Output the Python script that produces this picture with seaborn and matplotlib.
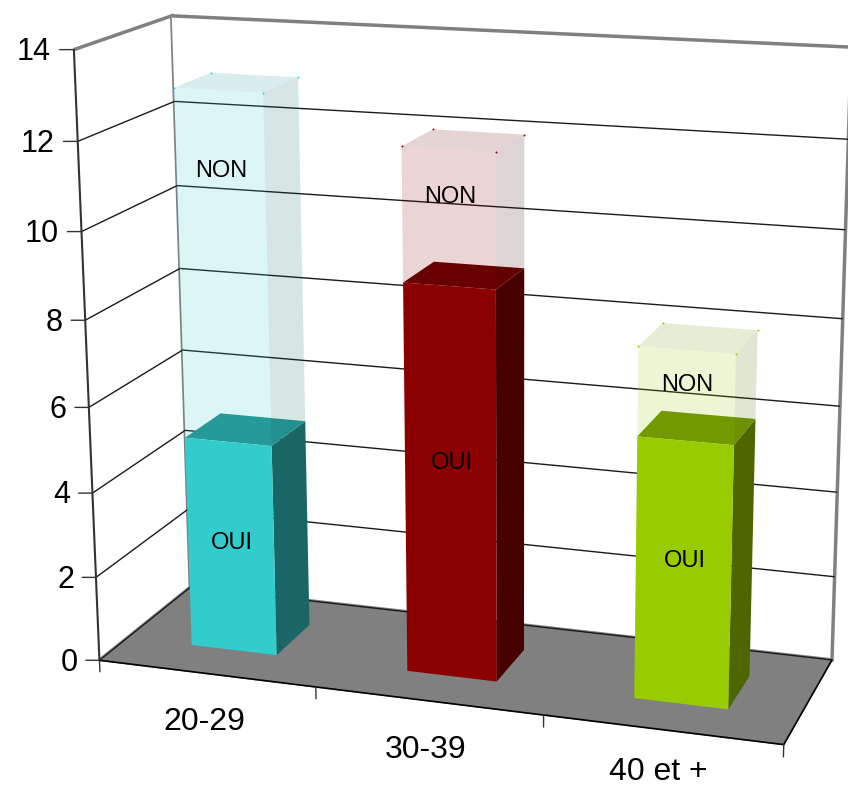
import matplotlib
matplotlib.use('Agg')
import matplotlib.pyplot as plt
import numpy as np
import seaborn as sns
from mpl_toolkits.mplot3d import proj3d

categories = ['20-29', '30-39', '40 et +']
oui_values = [5, 9, 6]
non_values = [8, 3, 2]
z_ticks = [0, 2, 4, 6, 8, 10, 12, 14]
base_colors = ['#33cccc', '#8b0000', '#99cc00']

# Excel put the data labels a bit off the middle of each segment
oui_label_lift = [0.1, 0.5, 0.3]
non_label_lift = [2.2, 0.47, 0.23]
category_label_drop = [1.18, 1.18, 0.98]

BAR_START = 0.305
BAR_SIZE = 0.4
DEPTH_START = 0.3
NON_ALPHA = 0.17
HIDDEN = (0, 0, 0, 0)

sns.set_theme(style='white')
plt.rcParams['font.family'] = ['Liberation Sans', 'DejaVu Sans']
palette = sns.color_palette(base_colors)

fig = plt.figure(figsize=(8.48, 7.88), dpi=100)
ax = fig.add_axes([0.0341, 0.0254, 1, 1], projection='3d')
ax.set_xlim(0, 3)
ax.set_ylim(0, 1)
ax.set_zlim(0, z_ticks[-1])
ax.view_init(elev=15.43, azim=-71.41, roll=0.30)
ax.set_proj_type('persp', focal_length=0.667)
ax.set_box_aspect((1, 0.322, 0.883), zoom=1.214)
ax.computed_zorder = False


def label_at(x, y, z, text, **kwargs):
    # project by hand so the text keeps its real place on the 2d axes
    px, py, _ = proj3d.proj_transform(x, y, z, ax.get_proj())
    ax.text2D(px, py, text, transform=ax.transData, ha=kwargs.pop('ha', 'center'), va='center',
              color='black', zorder=20, **kwargs)


# walls and floor
ax.set_xticks([])
ax.set_yticks([])
ax.set_zticks(z_ticks[:-1])
ax.set_zticklabels([])
ax.grid(True)
ax.zaxis._axinfo['grid'].update(color='#1a1a1a', linewidth=1)
ax.zaxis._axinfo['tick'].update(inward_factor=0, outward_factor=0)
for axis in (ax.xaxis, ax.yaxis):
    axis.set_pane_color((1, 1, 1, 1))
    axis.pane.set_edgecolor('#808080')
    axis.pane.set_linewidth(2.5)
    axis.line.set_color(HIDDEN)
ax.zaxis.set_pane_color('#808080')
ax.zaxis.pane.set_edgecolor('#808080')
ax.zaxis.line.set_color(HIDDEN)

# outline of the chart box
ax.plot([0, 3], [0, 0], [0, 0], color='black', lw=1.2, zorder=2, clip_on=False)
ax.plot([3, 3], [0, 1], [0, 0], color='black', lw=1.2, zorder=2, clip_on=False)
ax.plot([0, 0], [0, 0], [0, z_ticks[-1]], color='#333333', lw=1.5, zorder=2, clip_on=False)

# value axis ticks and labels
for z in z_ticks:
    ax.plot([0, -0.056], [0, -0.018], [z, z], color='#333333', lw=1, zorder=2, clip_on=False)
    label_at(-0.09, -0.03, z - 0.055, str(z), ha='right', fontsize=22)

# category ticks and labels
for b in range(len(categories) + 1):
    ax.plot([b, b], [0, 0], [0, -0.28], color='#333333', lw=1, zorder=2, clip_on=False)
for i, cat in enumerate(categories):
    label_at(i + 0.485, 0, -category_label_drop[i], cat, fontsize=23)

for i, (oui, non) in enumerate(zip(oui_values, non_values)):
    x0 = i + BAR_START
    rgb = np.array(palette[i])
    front, top, side = rgb, rgb * 0.75, rgb * 0.5

    # faces come in the order -z, +z, -y, +y, -x, +x
    non_front = [HIDDEN, (*top, NON_ALPHA), (*front, NON_ALPHA), HIDDEN, HIDDEN, HIDDEN]
    non_side = [HIDDEN, HIDDEN, HIDDEN, HIDDEN, HIDDEN, (*side, NON_ALPHA)]
    oui_faces = [HIDDEN, (*top, 1), (*front, 1), HIDDEN, HIDDEN, (*side, 1)]

    ax.bar3d(x0, DEPTH_START, oui, BAR_SIZE, BAR_SIZE, non, color=non_front, shade=False,
             linewidth=0, zorder=3 + i)
    ax.bar3d(x0, DEPTH_START, 0, BAR_SIZE, BAR_SIZE, oui, color=oui_faces, shade=False,
             linewidth=0, zorder=6 + i)
    ax.bar3d(x0, DEPTH_START, oui, BAR_SIZE, BAR_SIZE, non, color=non_side, shade=False,
             linewidth=0, zorder=9 + i)

    # small selection dots left on the top corners of the pale block
    total = oui + non
    ax.scatter([x0, x0, x0 + BAR_SIZE, x0 + BAR_SIZE],
               [DEPTH_START, DEPTH_START + BAR_SIZE, DEPTH_START, DEPTH_START + BAR_SIZE],
               [total] * 4, s=2, color=[front], depthshade=False, linewidths=0, zorder=12)

    label_at(i + 0.51, DEPTH_START, oui * 0.5 + oui_label_lift[i], 'OUI', fontsize=17)
    label_at(i + 0.51, DEPTH_START, oui + non * 0.5 + non_label_lift[i], 'NON', fontsize=17)

fig.savefig('out.png', dpi=100)
